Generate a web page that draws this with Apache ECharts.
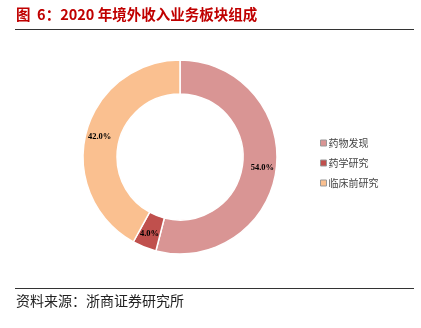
<!DOCTYPE html>
<html>
<head>
<meta charset="utf-8">
<script src="https://cdn.jsdelivr.net/npm/echarts@6/dist/echarts.min.js"></script>
<style>
html,body{margin:0;padding:0;background:#fff;}
#chart{width:421px;height:328px;}
</style>
</head>
<body>
<div id="chart"></div>
<script>
const categories = ['药物发现', '药学研究', '临床前研究'];
const values = [54.0, 4.0, 42.0];
const colors = ['#D99594', '#C0504D', '#FAC090'];
const titleText = '图  6：2020 年境外收入业务板块组成';
const sourceText = '资料来源：浙商证券研究所';

const chart = echarts.init(document.getElementById('chart'), null, {renderer: 'canvas'});
chart.setOption({
  animation: false,
  backgroundColor: '#fff',
  color: colors,
  legend: {
    orient: 'vertical',
    left: 315,
    top: 133,
    itemWidth: 6,
    itemHeight: 6,
    itemGap: 10,
    icon: 'rect',
    itemStyle: {borderColor: '#999', borderWidth: 1},
    textStyle: {fontSize: 10, color: '#444', fontFamily: 'Noto Sans CJK SC', padding: [0,0,0,-3]},
    data: categories
  },
  series: [{
    type: 'pie',
    center: [180, 157],
    radius: [63, 97],
    startAngle: 90,
    clockwise: true,
    itemStyle: {borderColor: '#fff', borderWidth: 1.5},
    label: {
      show: true,
      position: 'inside',
      formatter: p => p.value.toFixed(1) + '%',
      fontFamily: 'Liberation Serif',
      fontWeight: 'bold',
      fontSize: 8.5,
      color: '#000'
    },
    labelLine: {show: false},
    emphasis: {disabled: true},
    data: categories.map((c, i) => ({name: c, value: values[i]}))
  }],
  graphic: [
    {type: 'text', left: 16, top: 7, style: {text: titleText, fill: '#C00000', font: 'bold 14.5px "Noto Sans CJK SC", sans-serif'}},
    {type: 'line', shape: {x1: 15, y1: 29.5, x2: 414, y2: 29.5}, style: {stroke: '#333', lineWidth: 1}},
    {type: 'line', shape: {x1: 15, y1: 288.5, x2: 414, y2: 288.5}, style: {stroke: '#333', lineWidth: 1}},
    {type: 'text', left: 16, top: 294, style: {text: sourceText, fill: '#222', font: '14px "Noto Sans CJK SC", sans-serif'}}
  ]
});
</script>
</body>
</html>
